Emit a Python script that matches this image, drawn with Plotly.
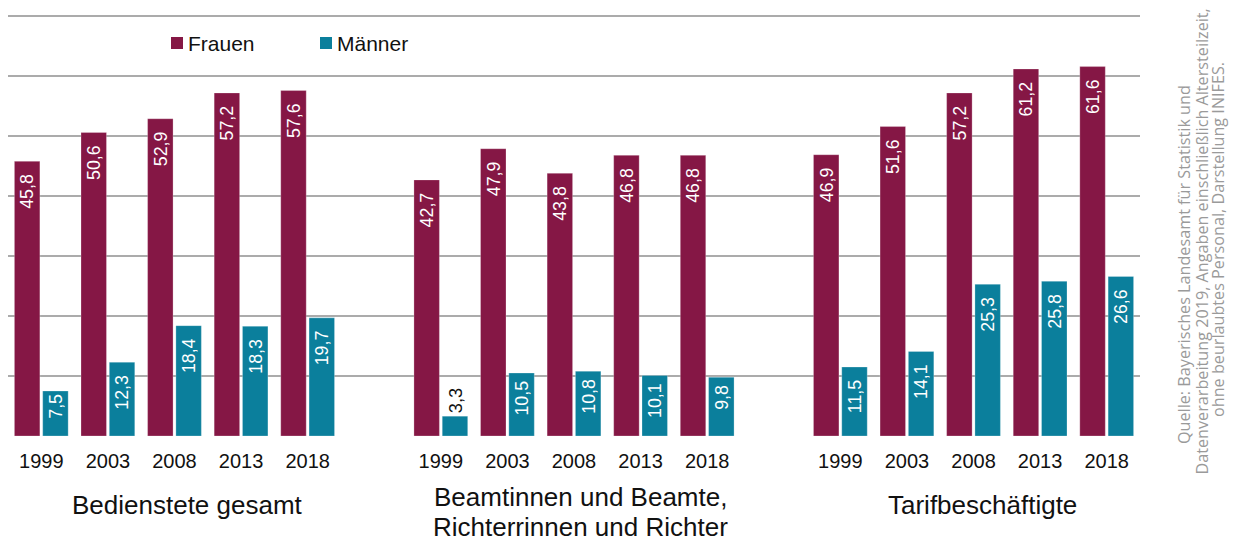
import plotly.graph_objects as go

years = ["1999", "2003", "2008", "2013", "2018"]
group_lines = [["Bedienstete gesamt"],
               ["Beamtinnen und Beamte,", "Richterrinnen und Richter"],
               ["Tarifbeschäftigte"]]
frauen = [45.8, 50.6, 52.9, 57.2, 57.6,
          42.7, 47.9, 43.8, 46.8, 46.8,
          46.9, 51.6, 57.2, 61.2, 61.6]
maenner = [7.5, 12.3, 18.4, 18.3, 19.7,
           3.3, 10.5, 10.8, 10.1, 9.8,
           11.5, 14.1, 25.3, 25.8, 26.6]
source_lines = ["Quelle: Bayerisches Landesamt für Statistik und",
                "Datenverarbeitung 2019, Angaben einschließlich Altersteilzeit,",
                "ohne beurlaubtes Personal, Darstellung INIFES."]
series_names = ["Frauen", "Männer"]

# x positions: 5 years per group, one empty slot between groups
xpos = []
for g in range(3):
    for i in range(5):
        xpos.append(g * 6 + i)
ticktext = years * 3

FR = "#851745"
MA = "#0b7f9c"
GRID = "#ababab"

# plot area in pixels (for placing free annotations)
L, R, T, B = 8, 96, 15, 105
W, H = 1236, 541
PW, PH = W - L - R, H - T - B


def px_x(px):
    return (px - L) / PW


def px_y(py):
    return (H - B - py) / PH


NB = "\u00a0"


def labels(vals):
    out = []
    for v in vals:
        s = f"{v:.1f}".replace(".", ",")
        if v >= 11:
            s += NB * 2
        elif v >= 9:
            s += NB
        out.append(s)
    return out


def pos(vals):
    return ["outside" if v < 5 else "inside" for v in vals]


fig = go.Figure()
for name, vals, col in [(series_names[0], frauen, FR), (series_names[1], maenner, MA)]:
    fig.add_trace(go.Bar(
        x=xpos, y=vals, name=name, marker_color=col,
        marker_line=dict(color="rgba(255,255,255,0.5)", width=0.5),
        text=labels(vals), textposition=pos(vals), textangle=-90,
        insidetextanchor="end",
        insidetextfont=dict(color="white", size=21),
        outsidetextfont=dict(color="#111", size=21),
        cliponaxis=False, showlegend=False,
    ))

# legend drawn as squares + text
leg = [(series_names[0], FR, 171), (series_names[1], MA, 320)]
shapes = []
for name, col, x0 in leg:
    shapes.append(dict(type="rect", xref="paper", yref="paper",
                       x0=px_x(x0), x1=px_x(x0 + 12), y0=px_y(49), y1=px_y(37),
                       fillcolor=col, line=dict(width=0)))
    fig.add_annotation(x=px_x(x0 + 15), y=px_y(43), xref="paper", yref="paper",
                       text=name, showarrow=False, xanchor="left", yanchor="middle",
                       font=dict(size=21, color="#111"))

# group titles
title_pos = [(187, [505]), (580.5, [497, 527]), (982.5, [505])]
for (cx, ys), lines in zip(title_pos, group_lines):
    for py, line in zip(ys, lines):
        fig.add_annotation(x=px_x(cx), y=px_y(py), xref="paper", yref="paper",
                           text=line, showarrow=False, xanchor="center",
                           yanchor="middle", font=dict(size=26, color="#111"))

# source note, rotated
src_pos = [(1184, 265), (1201, 241.5), (1218, 240)]
for (sx, sy), line in zip(src_pos, source_lines):
    fig.add_annotation(x=px_x(sx), y=px_y(sy), xref="paper", yref="paper",
                       text=line, showarrow=False, textangle=-90,
                       xanchor="center", yanchor="middle",
                       font=dict(family="Open Sans", size=16.2, color="#9a9a9a"))

fig.update_layout(
    width=W, height=H,
    margin=dict(l=L, r=R, t=T, b=B),
    plot_bgcolor="white", paper_bgcolor="white",
    font=dict(family="Liberation Sans, Arial, sans-serif", size=20, color="#111"),
    barmode="group", bargap=0.15, bargroupgap=0.1,
    showlegend=False,
    shapes=shapes,
    xaxis=dict(range=[-0.5, 16.5], tickvals=xpos, ticktext=ticktext,
               showgrid=False, zeroline=False, showline=False, ticks="",
               tickfont=dict(size=20), ticklabelstandoff=11),
    yaxis=dict(range=[0, 70.2], dtick=10, showgrid=True, gridcolor=GRID,
               gridwidth=2, zeroline=False, showticklabels=False, showline=False),
)
fig.write_html("out.html", config={"displayModeBar": False},
               post_script="document.body.style.margin='0';")
